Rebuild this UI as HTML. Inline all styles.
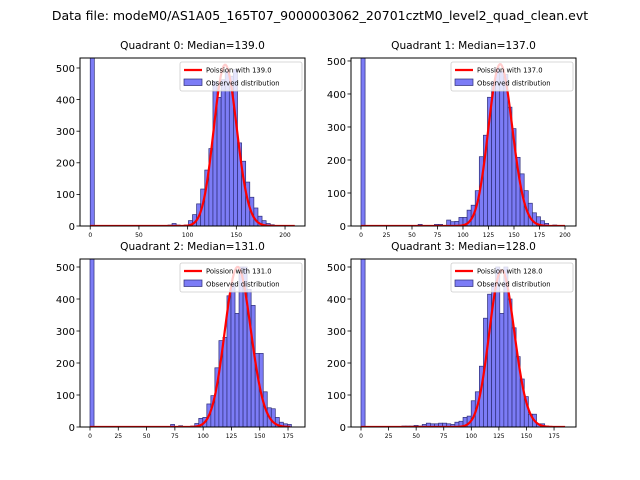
<!DOCTYPE html>
<html><head><meta charset="utf-8"><style>
body{margin:0;background:#fff;}
svg{display:block;font-family:"DejaVu Sans","Liberation Sans",sans-serif;}
</style></head><body>
<svg id="fig" width="640" height="480" viewBox="0 0 640 480">
<text x="320" y="20" font-size="12.5" text-anchor="middle">Data file: modeM0/AS1A05_165T07_9000003062_20701cztM0_level2_quad_clean.evt</text>
</svg>
<script>
const quadNames = ["Quadrant 0","Quadrant 1","Quadrant 2","Quadrant 3"];
const medians = [139.0, 137.0, 131.0, 128.0];
const binWidths = [4.2, 4.0, 3.56, 3.7];
const curvePeaks = [510, 490, 500, 490];
const curveMax = [210, 200, 177, 185];
const counts0 = {0:2000,19:3,20:8,21:3,23:3,24:17,25:36,26:70,27:117,28:177,29:245,30:458,31:407,32:463,33:490,34:474,35:495,36:263,37:205,38:139,39:91,40:57,41:31,42:17,43:8,44:4};
const counts1 = {0:2000,14:5,18:5,19:5,21:18,22:13,23:14,24:26,25:26,26:48,27:63,28:107,29:210,30:275,31:390,32:438,33:479,34:469,35:459,36:360,37:295,38:208,39:158,40:107,41:69,42:40,43:28,44:16,45:8,47:3};
const counts2 = {0:2000,20:8,22:4,25:3,26:11,27:27,28:30,29:72,30:98,31:185,32:270,33:280,34:410,35:450,36:355,37:500,38:500,39:430,40:380,41:230,42:230,43:110,44:60,45:57,46:30,47:15,48:10,49:8};
const counts3 = {0:2000,10:3,11:3,12:3,13:5,14:3,15:8,16:12,17:10,18:10,19:12,20:12,21:10,22:8,23:15,24:18,25:30,26:34,27:82,28:110,29:190,30:340,31:415,32:450,33:500,34:355,35:500,36:400,37:310,38:220,39:150,40:95,41:40,42:40,43:10,44:10,45:3};
const allCounts = [counts0, counts1, counts2, counts3];
const yTicks = [0,100,200,300,400,500];
const xTicks0 = [0,50,100,150,200];
const xTicks1 = [0,25,50,75,100,125,150,175,200];
const xTicks2 = [0,25,50,75,100,125,150,175];
const xTicks3 = [0,25,50,75,100,125,150,175];
const allXTicks = [xTicks0, xTicks1, xTicks2, xTicks3];
const xLims = [[-10.5,220.5],[-9.8,210.8],[-8.84,190],[-9.07,194.9]];
const yLims = [531.6, 509, 525, 525];

const NS="http://www.w3.org/2000/svg";
const fig=document.getElementById('fig');
function mk(tag,attrs,parent){const e=document.createElementNS(NS,tag);for(const k in attrs)e.setAttribute(k,attrs[k]);(parent||fig).appendChild(e);return e;}
const boxes=[[80,58],[351,58],[80,259],[351,259]];
const W=225,H=168;
function lgam(n){let s=0;for(let i=2;i<=n;i++)s+=Math.log(i);return s;}
for(let q=0;q<4;q++){
  const [ax,ay]=boxes[q];
  const [x0,x1]=xLims[q];const ymax=yLims[q];
  const X=v=>ax+(v-x0)/(x1-x0)*W;
  const Y=v=>ay+H-Math.min(v,ymax*1.05)/ymax*H;
  const g=mk('g',{});
  
  
  const clipId='clip'+q;
  const cp=mk('clipPath',{id:clipId},g);mk('rect',{x:ax,y:ay,width:W,height:H},cp);
  const title=mk('text',{x:ax+W/2,y:ay-9,'font-size':'10.6','text-anchor':'middle'},g);
  title.textContent=quadNames[q]+': Median='+medians[q].toFixed(1);
  
  
  const bars=mk('g',{'clip-path':'url(#'+clipId+')'},g);
  const bw=binWidths[q];const c=allCounts[q];
  for(const k in c){
    const i=+k;const v=c[k];
    const r=mk('rect',{x:X(i*bw),y:Y(v),width:X((i+1)*bw)-X(i*bw),height:Y(0)-Y(v),fill:'#7c7cf6',stroke:'#2e2e78','stroke-width':'0.7'},bars);
    
    
  }
  const lam=medians[q];const ref=Math.floor(lam)*Math.log(lam)-lam-lgam(Math.floor(lam));
  let d='';
  for(let k=0;k<=curveMax[q];k++){const lp=k*Math.log(lam)-lam-lgam(k);const v=curvePeaks[q]*Math.exp(lp-ref);d+=(k?'L':'M')+X(k).toFixed(2)+','+Y(v).toFixed(2);}
  const pl=mk('path',{d:d,fill:'none',stroke:'#ff0000','stroke-width':'2.2','clip-path':'url(#'+clipId+')'},g);
  
  
  const frame=mk('rect',{x:ax,y:ay,width:W,height:H,fill:'none',stroke:'#000','stroke-width':'1'},g);
  
  
  for(const t of yTicks){
    mk('line',{x1:ax-3.5,x2:ax,y1:Y(t),y2:Y(t),stroke:'#000','stroke-width':'0.8'},g);
    const tl=mk('text',{x:ax-5,y:Y(t)+3.8,'font-size':'10','text-anchor':'end'},g);tl.textContent=t;
    
    
  }
  for(const t of allXTicks[q]){
    mk('line',{x1:X(t),x2:X(t),y1:ay+H,y2:ay+H+3.5,stroke:'#000','stroke-width':'0.8'},g);
    const tl=mk('text',{x:X(t),y:ay+H+11,'font-size':'6','text-anchor':'middle'},g);tl.textContent=t;
    
    
  }
  const lg=mk('g',{},g);
  
  
  const lx=ax+W-125,ly=ay+4;
  mk('rect',{x:lx,y:ly,width:122,height:29,rx:2,fill:'#fff','fill-opacity':'0.8',stroke:'#ccc','stroke-width':'0.8'},lg);
  mk('line',{x1:lx+4,x2:lx+22,y1:ly+8,y2:ly+8,stroke:'#ff0000','stroke-width':'2.2'},lg);
  const t1=mk('text',{x:lx+26,y:ly+10.5,'font-size':'6.8'},lg);t1.textContent='Poission with '+medians[q].toFixed(1);
  mk('rect',{x:lx+4,y:ly+17,width:18,height:6.5,fill:'#7c7cf6',stroke:'#2e2e78','stroke-width':'0.7'},lg);
  const t2=mk('text',{x:lx+26,y:ly+23.5,'font-size':'6.8'},lg);t2.textContent='Observed distribution';
}
</script>
</body></html>
